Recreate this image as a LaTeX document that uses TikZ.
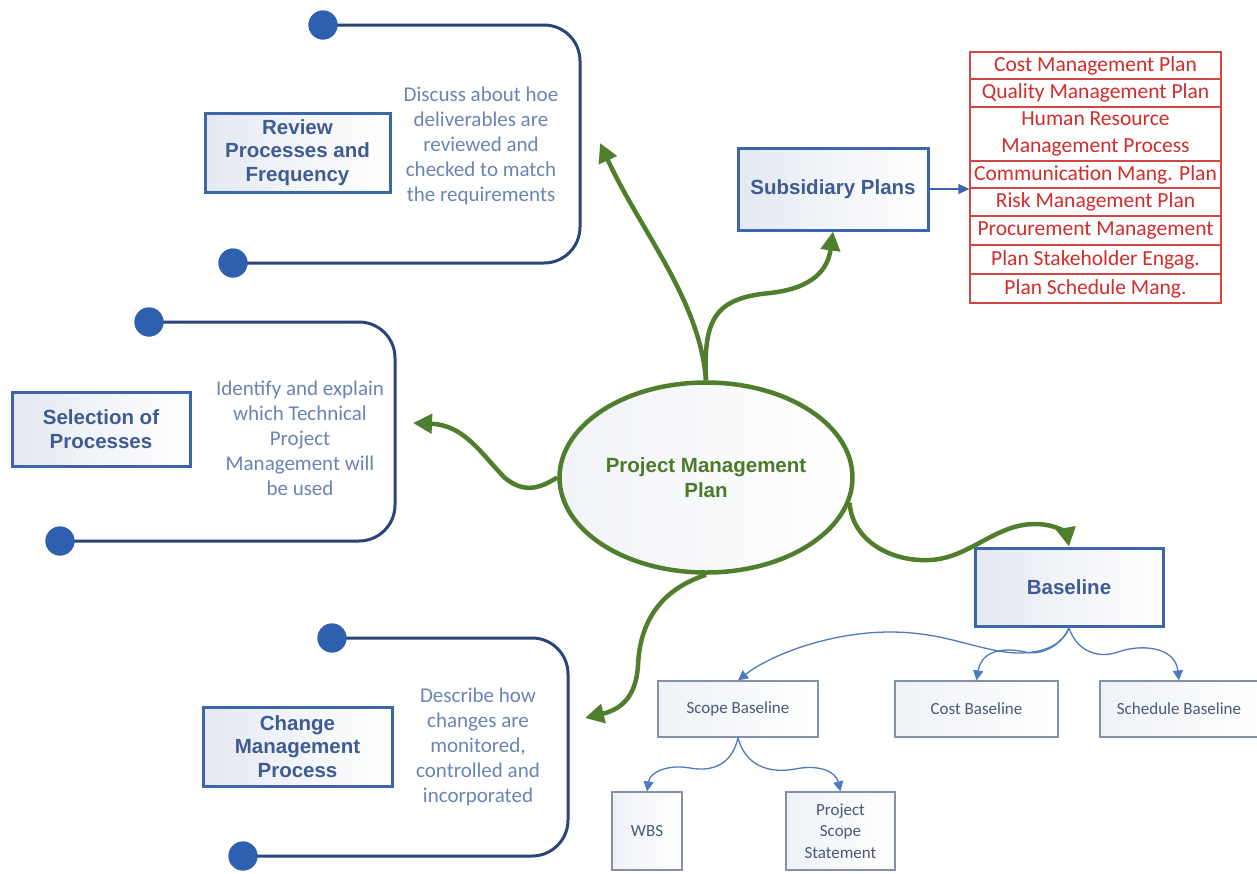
\documentclass[tikz,border=0pt]{standalone}
\usepackage{fontspec}
\setmainfont{Liberation Sans}
\newfontfamily\calfont{Carlito}
\usetikzlibrary{arrows.meta,shapes.geometric}

\definecolor{titleblue}{HTML}{3E5C93}
\definecolor{boxblue}{HTML}{3C65AA}
\definecolor{navy}{HTML}{2C4578}
\definecolor{dotblue}{HTML}{2F60B0}
\definecolor{descblue}{HTML}{6A84B4}
\definecolor{pmgreen}{HTML}{4F7E2C}
\definecolor{pmgreentext}{HTML}{4B7A2B}
\definecolor{planred}{HTML}{D42B2B}
\definecolor{planredline}{HTML}{D24646}
\definecolor{treeline}{HTML}{4C7BBE}
\definecolor{treebox}{HTML}{8491AE}
\definecolor{treetext}{HTML}{4A5878}
\definecolor{fillgray}{HTML}{E4E9F1}

\begin{document}
\begin{tikzpicture}[x=1pt,y=-1pt,
  titlebox/.style={draw=boxblue, line width=3pt, left color=fillgray, right color=white,
    text=titleblue, align=center, inner sep=0pt,
    font=\fontsize{20.5}{23.5}\selectfont\bfseries},
  desc/.style={text=descblue, align=center, inner sep=0pt,
    font=\calfont\fontsize{21}{25}\selectfont},
  bracket/.style={draw=navy, line width=3pt, rounded corners=36pt},
  enddot/.style={circle, fill=dotblue, minimum size=29pt, inner sep=0pt},
  garrow/.style={draw=pmgreen, line width=4.5pt, -{Triangle[length=19pt,width=19pt]}},
  planrow/.style={draw=planredline, line width=1.2pt, minimum width=251pt, inner sep=0pt,
    text=planred, align=center, font=\calfont\fontsize{21.5}{27}\selectfont},
  treenode/.style={draw=treebox, line width=1.2pt, left color=fillgray!60, right color=white,
    text=treetext, align=center, inner sep=0pt, font=\calfont\fontsize{17}{21.5}\selectfont},
  tarrow/.style={draw=treeline, line width=1.3pt, -{Triangle[length=10pt,width=10pt]}}
]
\useasboundingbox (0,0) rectangle (1257,873);
\fill[white] (0,0) rectangle (1257,873);

% ---- Review processes ----
\node[enddot] (rvA) at (323,25) {};
\node[enddot] (rvB) at (233,263) {};
\draw[bracket] (rvA.center) -- (580,25) -- (580,263) -- (rvB.center);
\node[enddot] at (rvA) {};
\node[enddot] at (rvB) {};
\node[titlebox, minimum width=185pt, minimum height=79pt] (review) at (297.5,152.5)
  {Review\\Processes and\\Frequency};
\node[desc] (reviewtxt) at (481,146)
  {Discuss about hoe\\deliverables are\\reviewed and\\checked to match\\the requirements};

% ---- Selection of processes ----
\node[enddot] (slA) at (149,322) {};
\node[enddot] (slB) at (60,541) {};
\draw[bracket] (slA.center) -- (395,322) -- (395,541) -- (slB.center);
\node[enddot] at (slA) {};
\node[enddot] at (slB) {};
\node[titlebox, minimum width=178pt, minimum height=74pt] (select) at (101,429)
  {Selection of\\Processes};
\node[desc] (selecttxt) at (300,438)
  {Identify and explain\\which Technical\\Project\\Management will\\be used};

% ---- Change management ----
\node[enddot] (chA) at (332,638) {};
\node[enddot] (chB) at (243,856) {};
\draw[bracket] (chA.center) -- (568,638) -- (568,856) -- (chB.center);
\node[enddot] at (chA) {};
\node[enddot] at (chB) {};
\node[titlebox, minimum width=189pt, minimum height=79pt] (change) at (297.5,746.5)
  {Change\\Management\\Process};
\node[desc] (changetxt) at (478,747)
  {Describe how\\changes are\\monitored,\\controlled and\\incorporated};

% ---- Central plan ----
\node[ellipse, draw=pmgreen, line width=4.5pt, minimum width=284pt, minimum height=190pt,
  left color=fillgray!55, right color=white, text=pmgreentext, align=center,
  font=\fontsize{20.5}{25}\selectfont\bfseries] (pmp) at (706,477.5)
  {Project Management\\Plan};

% ---- Subsidiary plans ----
\node[titlebox, minimum width=190pt, minimum height=82pt] (sub) at (833,189)
  {Subsidiary Plans};
\node[planrow, minimum height=27pt] (r1) at (1095.5,65.5) {Cost Management Plan};
\node[planrow, minimum height=28pt] (r2) at (1095.5,93) {Quality Management Plan};
\node[planrow, minimum height=54pt] (r3) at (1095.5,134) {Human Resource\\Management Process};
\node[planrow, minimum height=27pt] (r4) at (1095.5,174.5) {Communication Mang. Plan};
\node[planrow, minimum height=28pt] (r5) at (1095.5,202) {Risk Management Plan};
\node[planrow, minimum height=29pt] (r6) at (1095.5,230.5) {Procurement Management};
\node[planrow, minimum height=29pt] (r7) at (1095.5,259.5) {Plan Stakeholder Engag.};
\node[planrow, minimum height=29pt] (r8) at (1095.5,288.5) {Plan Schedule Mang.};
\draw[draw=boxblue, line width=1.5pt, -{Triangle[length=11pt,width=10pt]}]
  (sub.east) -- (sub.east -| r4.west);

% ---- Baseline ----
\node[titlebox, minimum width=188pt, minimum height=78pt] (base) at (1069,587) {Baseline};
\node[treenode, minimum width=160pt, minimum height=56pt] (scope) at (738,709) {Scope Baseline};
\node[treenode, minimum width=163pt, minimum height=56pt] (cost) at (976.5,709) {Cost Baseline};
\node[treenode, minimum width=158pt, minimum height=56pt] (sched) at (1179,709) {Schedule Baseline};
\node[treenode, minimum width=70pt, minimum height=78pt] (wbs) at (647,831) {WBS};
\node[treenode, minimum width=109pt, minimum height=78pt] (pss) at (840.5,831) {Project\\Scope\\Statement};

% ---- green links from the plan ----
\draw[garrow] (pmp.north) .. controls (700,300) and (640,230) .. (600,143);
\draw[garrow] (pmp.north) .. controls (703,318) and (716,298) .. (770,293)
  .. controls (815,288) and (828,268) .. (sub.south);
\draw[garrow] (pmp.west) .. controls (540,488) and (525,494) .. (505,478)
  .. controls (482,455) and (465,425) .. (413,423);
\draw[garrow] (pmp.south) .. controls (660,590) and (640,622) .. (638,665)
  .. controls (636,700) and (618,710) .. (585,718);
\draw[garrow] (pmp.-10) .. controls (852,540) and (890,562) .. (930,560)
  .. controls (970,558) and (995,524) .. (1035,524)
  .. controls (1058,524) and (1067,535) .. (base.north);

% ---- baseline tree links ----
\draw[tarrow] (base.south) .. controls (1062,648) and (1035,656) .. (1005,652)
  .. controls (970,647) and (940,632) .. (890,632)
  .. controls (830,632) and (770,655) .. (scope.north);
\draw[tarrow] (base.south) .. controls (1062,645) and (1042,656) .. (1025,652)
  .. controls (1008,648) and (982,648) .. (cost.north);
\draw[tarrow] (base.south) .. controls (1075,648) and (1095,660) .. (1118,652)
  .. controls (1140,644) and (1175,646) .. (sched.north);
\draw[tarrow] (scope.south) .. controls (732,765) and (712,772) .. (690,768)
  .. controls (668,764) and (650,772) .. (wbs.north);
\draw[tarrow] (scope.south) .. controls (745,765) and (768,774) .. (795,769)
  .. controls (820,764) and (836,772) .. (pss.north);
\end{tikzpicture}
\end{document}
